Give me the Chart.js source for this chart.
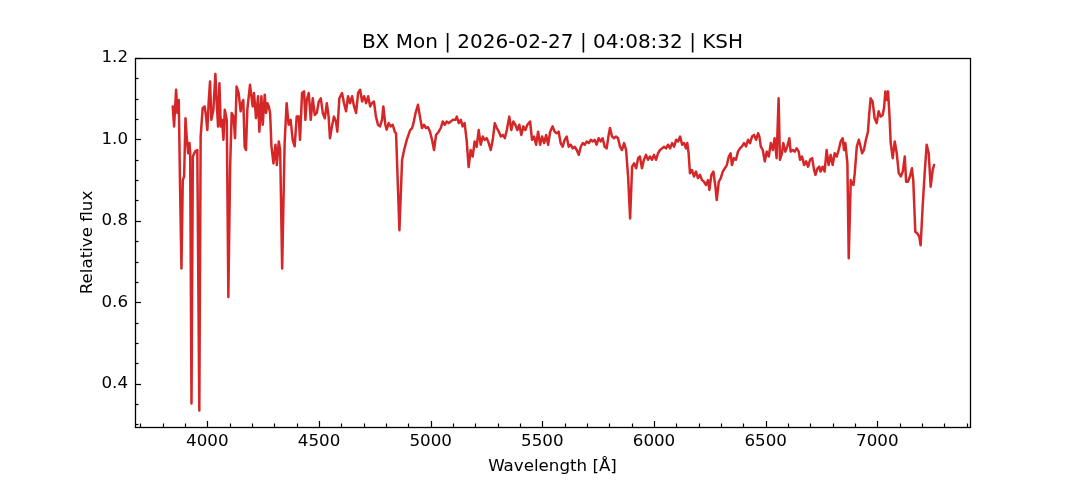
<!DOCTYPE html>
<html><head><meta charset="utf-8">
<script src="https://cdn.jsdelivr.net/npm/chart.js@4.4.1/dist/chart.umd.min.js"></script>
<style>html,body{margin:0;padding:0;background:#fff;}#wrap{width:1080px;height:480px;}</style>
</head><body><div id="wrap"><canvas id="c" width="1080" height="480"></canvas></div>
<script>
const titleText = 'BX Mon | 2026-02-27 | 04:08:32 | KSH';
const xLabel = 'Wavelength [Å]';
const yLabel = 'Relative flux';

const wavelength = [
3845,3851,3860,3866,3872,3878,3884,3890,3896,3902,3908,3914,3920,3923,3929,3935,3945,3955,3964,3970,
3979,3988,3994,4000,4006,4012,4018,4027,4036,4042,4048,4054,4060,4066,4072,4078,4087,4094,4102,4109,
4117,4124,4131,4140,4149,4155,4161,4167,4173,4179,4191,4203,4209,4218,4227,4233,4242,4248,4257,4263,
4269,4275,4281,4287,4296,4305,4311,4320,4326,4335,4346,4355,4364,4373,4382,4391,4400,4409,4415,4424,
4433,4439,4445,4454,4463,4472,4481,4490,4499,4508,4517,4526,4535,4543,4549,4558,4567,4576,4582,4591,
4603,4612,4621,4630,4639,4648,4657,4666,4675,4684,4693,4702,4711,4720,4729,4737,4746,4755,4764,4773,
4782,4788,4797,4803,4812,4821,4830,4839,4845,4860,4872,4881,4893,4908,4917,4923,4932,4943,4952,4961,
4970,4979,4988,4997,5006,5015,5024,5036,5045,5054,5063,5072,5081,5090,5099,5111,5117,5126,5135,5143,
5152,5161,5170,5179,5188,5197,5206,5215,5224,5233,5242,5251,5260,5269,5278,5287,5296,5305,5314,5323,
5332,5341,5352,5361,5370,5379,5388,5397,5406,5415,5424,5433,5445,5454,5463,5472,5481,5490,5499,5508,
5517,5526,5535,5546,5555,5564,5573,5582,5591,5600,5609,5618,5627,5636,5645,5654,5663,5672,5681,5690,
5699,5708,5717,5726,5734,5743,5752,5761,5770,5779,5788,5797,5803,5812,5821,5830,5839,5848,5857,5866,
5875,5884,5893,5902,5911,5920,5929,5937,5946,5955,5964,5973,5982,5991,6000,6009,6018,6027,6036,6045,
6054,6063,6072,6081,6090,6099,6108,6117,6126,6135,6143,6149,6155,6161,6170,6179,6188,6197,6206,6215,
6224,6233,6242,6248,6257,6266,6275,6281,6290,6299,6308,6317,6326,6335,6343,6349,6358,6367,6376,6385,
6394,6403,6412,6421,6430,6439,6448,6457,6466,6472,6478,6487,6496,6505,6514,6523,6532,6540,6549,6558,
6564,6573,6579,6588,6597,6606,6612,6621,6630,6639,6648,6654,6663,6672,6681,6690,6699,6708,6717,6723,
6732,6740,6746,6755,6764,6773,6782,6791,6800,6809,6818,6827,6836,6845,6851,6857,6866,6872,6881,6887,
6893,6899,6908,6917,6923,6932,6940,6949,6958,6964,6970,6979,6988,6997,7006,7015,7024,7030,7036,7042,
7048,7054,7060,7069,7078,7087,7096,7105,7114,7123,7129,7137,7146,7155,7161,7170,7179,7188,7194,7203,
7212,7221,7230,7239,7248,7254
];
const flux = [
1.081,1.032,1.122,1.065,1.097,0.876,0.683,0.900,0.909,1.052,1.003,0.966,0.991,0.966,0.351,0.958,0.970,0.974,0.334,1.007,
1.077,1.081,1.056,1.023,1.093,1.142,1.048,1.073,1.161,1.089,1.032,1.138,1.032,1.048,0.999,1.073,1.048,0.613,0.933,1.065,
1.056,1.003,1.130,1.114,1.069,1.089,1.097,0.982,0.974,1.073,1.134,1.081,1.114,1.052,1.106,1.019,1.106,1.036,1.110,1.065,
1.089,1.081,1.065,0.983,0.941,0.987,0.937,0.995,0.974,0.683,0.991,1.089,1.036,1.048,0.999,0.983,1.056,1.056,0.999,1.114,
1.118,1.048,1.097,1.114,1.048,1.101,1.060,1.065,1.093,1.101,1.065,1.052,1.089,1.056,1.003,1.032,1.056,1.044,1.019,1.101,
1.114,1.089,1.069,1.106,1.089,1.106,1.081,1.065,1.114,1.122,1.093,1.106,1.089,1.106,1.081,1.089,1.093,1.056,1.036,1.032,
1.048,1.081,1.036,1.024,1.040,1.032,1.036,1.019,1.015,0.777,0.950,0.974,0.999,1.023,1.028,1.040,1.064,1.085,1.056,1.028,
1.036,1.028,1.030,1.019,0.999,0.974,1.011,1.019,1.028,1.044,1.036,1.044,1.040,1.044,1.048,1.048,1.056,1.040,1.048,1.032,
1.040,0.999,0.932,0.974,0.958,0.995,0.982,1.023,0.987,1.007,0.999,1.003,0.991,0.974,0.999,1.040,1.028,1.019,1.007,1.011,
1.003,1.023,1.056,1.023,1.044,1.036,1.023,1.036,1.011,1.032,1.023,1.036,1.044,0.999,1.007,0.987,1.019,0.987,1.007,0.991,
1.011,0.987,1.019,1.032,1.019,1.015,1.019,0.991,0.982,0.999,1.007,0.982,0.987,0.978,0.982,0.974,0.962,0.982,0.991,0.987,
0.995,0.991,0.999,0.995,0.999,0.987,1.003,0.995,1.003,0.982,0.978,1.011,1.028,1.007,1.003,1.007,1.003,0.982,0.974,0.991,
0.974,0.909,0.806,0.933,0.941,0.929,0.954,0.958,0.929,0.950,0.962,0.950,0.958,0.950,0.962,0.950,0.966,0.974,0.978,0.982,
0.978,0.987,0.978,0.991,0.982,0.999,0.995,1.007,0.987,0.991,0.978,0.991,0.966,0.917,0.925,0.909,0.921,0.905,0.913,0.900,
0.896,0.888,0.900,0.876,0.913,0.921,0.884,0.851,0.896,0.905,0.921,0.929,0.937,0.958,0.966,0.937,0.954,0.950,0.970,0.978,
0.983,0.991,0.983,0.999,0.991,1.007,1.011,0.999,1.015,1.007,0.983,0.974,0.946,0.970,0.958,0.991,0.974,1.003,0.954,1.101,
0.950,0.966,0.991,0.970,0.983,1.003,0.970,0.974,0.970,0.978,0.970,0.950,0.958,0.937,0.946,0.933,0.950,0.954,0.925,0.913,
0.929,0.933,0.921,0.933,0.921,0.974,0.937,0.962,0.937,0.966,0.958,0.974,0.995,1.003,0.974,0.991,0.941,0.708,0.900,0.892,
0.888,0.917,0.982,0.999,0.987,0.966,0.974,0.999,1.019,1.064,1.101,1.093,1.052,1.040,1.069,1.056,1.060,1.077,1.118,1.097,
1.118,1.064,0.991,0.954,0.995,0.966,0.917,0.909,0.921,0.958,0.896,0.896,0.909,0.929,0.900,0.773,0.769,0.761,0.740,0.835,
0.917,0.987,0.966,0.884,0.925,0.937
];

const xTicks = [4000, 4500, 5000, 5500, 6000, 6500, 7000];
const yTicks = [0.4, 0.6, 0.8, 1.0, 1.2];
const xMinorTicks = [3700,3800,3900,4100,4200,4300,4400,4600,4700,4800,4900,5100,5200,5300,5400,5600,5700,5800,5900,6100,6200,6300,6400,6600,6700,6800,6900,7100,7200,7300,7400];
const yMinorTicks = [0.30,0.35,0.45,0.50,0.55,0.65,0.70,0.75,0.85,0.90,0.95,1.05,1.10,1.15];

const FONT = 'DejaVu Sans';
const lineColor = '#d62728';

const frameTicks = {
  id: 'frameTicks',
  afterDraw(chart) {
    const {ctx, chartArea: a, scales: {x, y}} = chart;
    ctx.save();
    ctx.strokeStyle = '#000';
    ctx.lineWidth = 1.2;
    const drawX = (vals, len) => {
      vals.forEach(v => {
        const p = Math.round(x.getPixelForValue(v)) + 0.5;
        if (p < a.left || p > a.right) return;
        ctx.beginPath(); ctx.moveTo(p, a.bottom); ctx.lineTo(p, a.bottom - len); ctx.stroke();
      });
    };
    const drawY = (vals, len) => {
      vals.forEach(v => {
        const p = Math.round(y.getPixelForValue(v)) + 0.5;
        if (p < a.top || p > a.bottom) return;
        ctx.beginPath(); ctx.moveTo(a.left, p); ctx.lineTo(a.left + len, p); ctx.stroke();
      });
    };
    drawX(xTicks, 6); drawX(xMinorTicks, 3.5);
    drawY(yTicks, 6); drawY(yMinorTicks, 3.5);
    ctx.lineWidth = 1.3;
    ctx.strokeRect(Math.round(a.left) + 0.5, Math.round(a.top) + 0.5, Math.round(a.right - a.left), Math.round(a.bottom - a.top));
    ctx.restore();
  }
};

const points = wavelength.map((w, i) => ({x: w, y: flux[i]}));

new Chart(document.getElementById('c'), {
  type: 'line',
  data: { datasets: [{ data: points, xAxisID: 'x', yAxisID: 'y', borderColor: lineColor, borderWidth: 2.5, pointRadius: 0, tension: 0, fill: false, borderJoinStyle: 'round', borderCapStyle: 'round' }] },
  options: {
    responsive: false, animation: false, devicePixelRatio: 1,
    layout: { padding: { left: 0, right: 110, top: 0, bottom: 0 } },
    plugins: { legend: { display: false }, tooltip: { enabled: false }, title: { display: false } },
    scales: {
      x: {
        type: 'linear', position: 'bottom', min: 3676, max: 7415,
        afterBuildTicks: s => { s.ticks = xTicks.map(v => ({ value: v })); },
        afterFit: s => { s.height = 53; },
        grid: { display: false, drawTicks: false }, border: { display: false },
        ticks: { color: '#000', font: { family: FONT, size: 16.7 }, padding: 5, maxRotation: 0, autoSkip: false, callback: v => String(v) },
        title: { display: true, text: xLabel, color: '#000', font: { family: FONT, size: 16.7 }, padding: { top: 0, bottom: 3 } }
      },
      xTop: {
        type: 'linear', axis: 'x', position: 'top', min: 3676, max: 7415,
        afterBuildTicks: s => { s.ticks = []; },
        afterFit: s => { s.height = 58; },
        grid: { display: false, drawTicks: false }, border: { display: false },
        ticks: { display: false },
        title: { display: true, text: titleText, color: '#000', font: { family: FONT, size: 20 }, padding: { top: 31, bottom: 0 } }
      },
      y: {
        type: 'linear', position: 'left', min: 0.2935, max: 1.2,
        afterBuildTicks: s => { s.ticks = yTicks.map(v => ({ value: v })); },
        afterFit: s => { s.width = 135; },
        grid: { display: false, drawTicks: false }, border: { display: false },
        ticks: { color: '#000', font: { family: FONT, size: 16.7 }, padding: 7, autoSkip: false, callback: v => v.toFixed(1) },
        title: { display: true, text: yLabel, color: '#000', font: { family: FONT, size: 16.7 }, padding: { top: 78, bottom: 0 } }
      }
    }
  },
  plugins: [frameTicks]
});
</script>
</body></html>
